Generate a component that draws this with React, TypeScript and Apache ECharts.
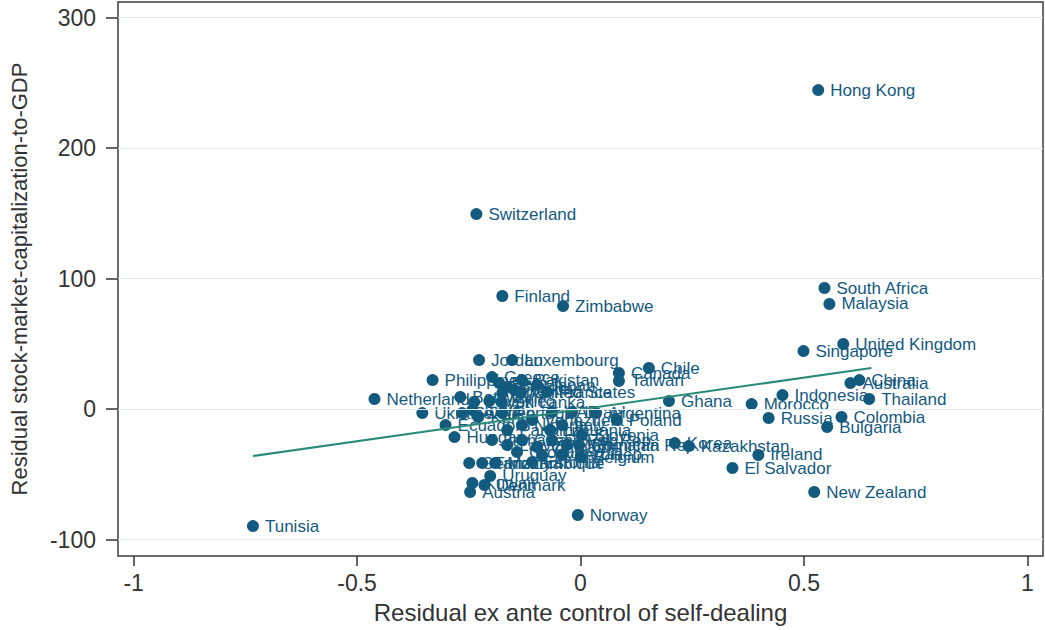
import React, { useEffect, useRef } from "react";
import * as echarts from "echarts";

const countries = [
  "Hong Kong", "Switzerland", "Finland", "Zimbabwe", "South Africa", "Malaysia",
  "United Kingdom", "Singapore", "Chile", "Canada", "Taiwan", "Jordan", "Luxembourg",
  "Philippines", "Netherlands", "Ghana", "Morocco", "Indonesia", "Thailand", "Australia",
  "China", "Russia", "Colombia", "Bulgaria", "Korea", "Kazakhstan", "Ireland",
  "El Salvador", "New Zealand", "Norway", "Tunisia", "Ukraine", "Ecuador", "Hungary",
  "Poland", "Romania", "Belgium", "Sri Lanka", "United States", "Pakistan", "Greece",
  "Peru", "Brazil", "Turkey", "Japan", "Spain", "France", "Botswana", "Egypt", "Mexico",
  "Sweden", "India", "Kenya", "Portugal", "Italy", "Venezuela", "Lithuania", "Nigeria",
  "Panama", "Jamaica", "Latvia", "Czech Rep.", "Vietnam", "Slovak Rep.", "Dominican Rep.",
  "Kyrgyz Rep.", "Serbia", "Uruguay", "Germany", "Tanzania", "Mozambique", "Denmark",
  "Austria", "Kuwait", "Israel", "Argentina", "UAE", "Croatia", "Slovenia", "Estonia"
];

const xValues = [
  0.532, -0.233, -0.175, -0.039, 0.546, 0.557,
  0.588, 0.499, 0.153, 0.086, 0.086, -0.227, -0.153,
  -0.331, -0.461, 0.198, 0.383, 0.452, 0.646, 0.604,
  0.624, 0.421, 0.584, 0.552, 0.211, 0.242, 0.398,
  0.340, 0.523, -0.006, -0.733, -0.354, -0.302, -0.282,
  0.081, -0.003, 0.001, -0.177, -0.133, -0.131, -0.198,
  -0.182, -0.164, -0.148, -0.097, -0.175, -0.075, -0.269, -0.238, -0.204,
  -0.265, -0.242, -0.229, -0.175, -0.041, -0.108, -0.068, -0.131,
  -0.164, -0.198, -0.164, -0.131, -0.097, -0.064, -0.030,
  -0.086, -0.041, -0.202, -0.249, -0.220, -0.191, -0.215,
  -0.247, -0.242, -0.019, 0.035, -0.064, -0.142, 0.003, -0.108
];

const yValues = [
  244.4, 149.4, 86.6, 78.9, 92.7, 80.5,
  49.8, 44.4, 31.4, 27.6, 21.5, 37.5, 37.5,
  22.2, 7.7, 6.1, 3.8, 10.7, 7.7, 19.9,
  22.2, -6.9, -6.1, -13.8, -26.1, -28.4, -35.2,
  -45.2, -63.6, -81.2, -89.7, -3.1, -12.3, -21.5,
  -8.4, -27.6, -36.8, 5.4, 13.0, 22.2, 24.5,
  19.9, 16.9, 14.6, 18.4, 12.3, 13.0, 9.2, 5.4, 6.1,
  -3.1, -0.8, -6.1, -3.1, -12.3, -8.4, -16.1, -12.3,
  -16.1, -23.8, -27.6, -23.8, -29.1, -23.8, -27.6,
  -35.2, -35.2, -51.3, -41.4, -41.4, -41.4, -58.2,
  -63.6, -56.7, -2.3, -3.1, -2.3, -33.0, -19.9, -40.6
];

const fitX = [-0.733, 0.651];
const fitY = [-36.0, 31.4];

const xTicks = [-1, -0.5, 0, 0.5, 1];
const yTicks = [-100, 0, 100, 200, 300];

const FONT = "'Liberation Sans', Arial, Helvetica, sans-serif";
const DOT = "#135a7f";

export default function App() {
  const ref = useRef<HTMLDivElement>(null);

  useEffect(() => {
    if (!ref.current) return;
    const chart = echarts.init(ref.current, undefined, { renderer: "svg" });
    const points = countries.map((name, i) => ({ name, value: [xValues[i], yValues[i]] }));
    const fitData = fitX.map((x, i) => [x, fitY[i]]);

    chart.setOption({
      animation: false,
      backgroundColor: "#ffffff",
      textStyle: { fontFamily: FONT },
      grid: {
        show: true,
        left: 114,
        right: 2,
        top: 2,
        bottom: 74,
        borderColor: "#3c3c3c",
        borderWidth: 1.5,
        backgroundColor: "#ffffff",
      },
      xAxis: {
        type: "value",
        min: -1.035,
        max: 1.035,
        name: "Residual ex ante control of self-dealing",
        nameLocation: "middle",
        nameGap: 44,
        nameTextStyle: { fontSize: 24, color: "#333", fontFamily: FONT },
        axisLine: { show: false, onZero: false },
        axisTick: {
          show: true,
          customValues: xTicks,
          length: 10,
          lineStyle: { color: "#333", width: 1.5 },
        },
        axisLabel: {
          customValues: xTicks,
          margin: 15,
          fontSize: 23,
          color: "#333",
          fontFamily: FONT,
          formatter: (v: number) => String(v),
        },
        splitLine: { show: false },
      },
      yAxis: {
        type: "value",
        min: -112.6,
        max: 311.9,
        name: "Residual stock-market-capitalization-to-GDP",
        nameLocation: "middle",
        nameGap: 88,
        nameTextStyle: { fontSize: 22, color: "#333", fontFamily: FONT },
        axisLine: { show: false, onZero: false },
        axisTick: {
          show: true,
          customValues: yTicks,
          length: 12,
          lineStyle: { color: "#333", width: 1.5 },
        },
        axisLabel: {
          customValues: yTicks,
          margin: 22,
          fontSize: 23,
          color: "#333",
          fontFamily: FONT,
          formatter: (v: number) => String(v),
        },
        splitLine: { show: false },
      },
      series: [
        {
          type: "line",
          data: [],
          z: 1,
          silent: true,
          markLine: {
            silent: true,
            symbol: "none",
            label: { show: false },
            lineStyle: { color: "#e0edf1", width: 1, type: "solid" },
            data: yTicks.map((v) => ({ yAxis: v })),
          },
        },
        {
          type: "scatter",
          data: points,
          z: 2,
          symbol: "circle",
          symbolSize: 12,
          itemStyle: { color: DOT, opacity: 1 },
          label: {
            show: true,
            position: "right",
            distance: 6,
            formatter: (p: any) => p.name,
            fontSize: 17,
            color: DOT,
            fontFamily: FONT,
          },
          labelLayout: { hideOverlap: false },
        },
        {
          type: "line",
          data: fitData,
          z: 3,
          symbol: "none",
          silent: true,
          lineStyle: { color: "#2a8a78", width: 2 },
        },
      ],
    });

    return () => chart.dispose();
  }, []);

  return (
    <div
      ref={ref}
      style={{ position: "absolute", left: 0, top: 0, width: 1045, height: 630 }}
    />
  );
}
